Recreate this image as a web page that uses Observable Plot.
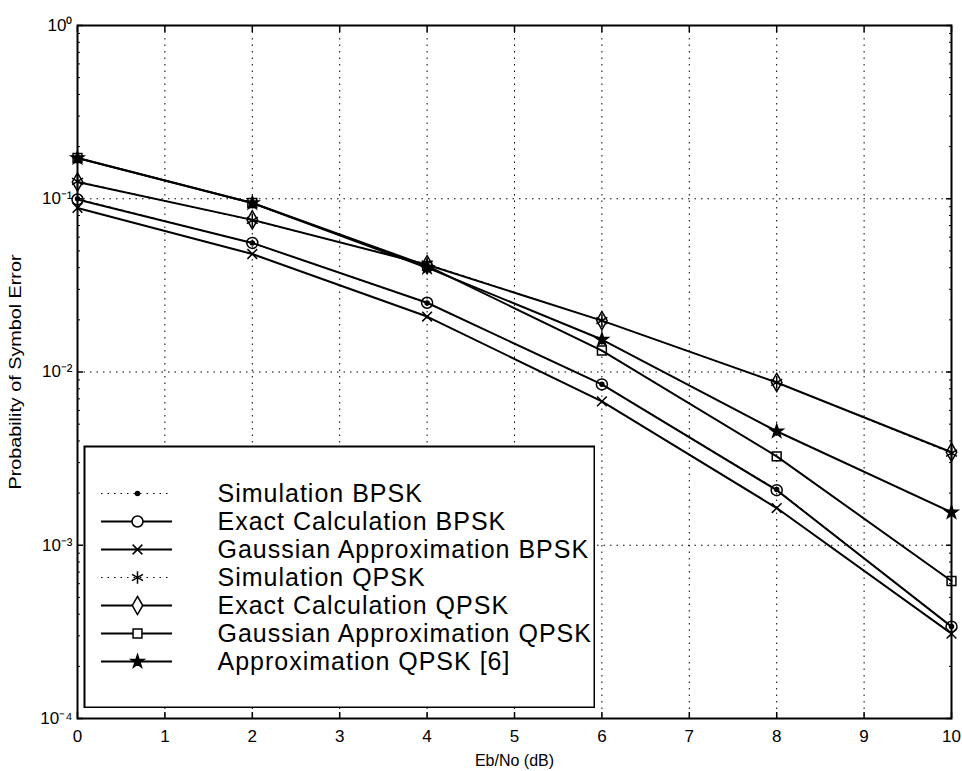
<!DOCTYPE html>
<html>
<head>
<meta charset="utf-8">
<script src="https://cdn.jsdelivr.net/npm/d3@7"></script>
<script src="https://cdn.jsdelivr.net/npm/@observablehq/plot@0.6"></script>
<style>
  html, body { margin: 0; padding: 0; background: white; }
  #wrap { position: relative; width: 962px; height: 771px; }
  #legend { position: absolute; left: 83px; top: 445px; }
</style>
</head>
<body>
<div id="wrap"><div id="chart"></div><div id="legend"></div></div>
<script>
// ---- data ----
const ebno = [0, 2, 4, 6, 8, 10];
const simBPSK    = [0.100, 0.0555, 0.0250, 0.00850, 0.00210, 0.000340];
const exactBPSK  = [0.099, 0.0556, 0.0251, 0.00848, 0.00208, 0.000339];
const gaussBPSK  = [0.0885, 0.0480, 0.0209, 0.00677, 0.00164, 0.000309];
const simQPSK    = [0.126, 0.0750, 0.0420, 0.0198, 0.00870, 0.00340];
const exactQPSK  = [0.125, 0.0755, 0.0416, 0.0198, 0.00870, 0.00344];
const gaussQPSK  = [0.172, 0.0945, 0.0410, 0.0133, 0.00326, 0.000622];
const approxQPSK = [0.172, 0.0945, 0.0400, 0.0154, 0.00455, 0.00155];

const seriesNames = [
  "Simulation BPSK",
  "Exact Calculation BPSK",
  "Gaussian Approximation BPSK",
  "Simulation QPSK",
  "Exact Calculation QPSK",
  "Gaussian Approximation QPSK",
  "Approximation QPSK [6]"
];
const seriesValues = [simBPSK, exactBPSK, gaussBPSK, simQPSK, exactQPSK, gaussQPSK, approxQPSK];

const xTicks = [0, 1, 2, 3, 4, 5, 6, 7, 8, 9, 10];
const yTicks = [1e-4, 1e-3, 1e-2, 1e-1, 1];
const yMinor = [1e-4, 1e-3, 1e-2, 1e-1].flatMap(d => [2,3,4,5,6,7,8,9].map(k => k * d));

// ---- styles per series ----
const styles = [
  {symbol: "circle",   r: 2,   fill: "black", dash: "1.5,5", width: 1},
  {symbol: "circle",   r: 5.5, fill: "none",  dash: null,    width: 2},
  {symbol: "times",    r: 4.5, fill: "none",  dash: null,    width: 2},
  {symbol: "asterisk", r: 6,   fill: "none",  dash: "1.5,5", width: 1},
  {symbol: "diamond",  r: 5.5, fill: "none",  dash: null,    width: 2},
  {symbol: "square",   r: 5,   fill: "none",  dash: null,    width: 2},
  {symbol: "star",     r: 4,   fill: "black", dash: null,    width: 2}
];

const series = seriesNames.map((name, i) => ({
  name, style: styles[i],
  points: ebno.map((x, j) => ({x, y: seriesValues[i][j], name}))
}));

const font = "'Liberation Sans', Arial, Helvetica, sans-serif";
const sup = {"-": "\u207B", "0": "\u2070", "1": "\u00B9", "2": "\u00B2", "3": "\u00B3", "4": "\u2074"};
const fmtPow = d => "10" + String(Math.round(Math.log10(d))).replace(/./g, c => sup[c]);

const marks = [
  Plot.gridX(xTicks.filter(d => d > 0 && d < 10), {stroke: "black", strokeOpacity: 1, strokeWidth: 1, strokeDasharray: "1.5,5"}),
  Plot.gridY(yTicks.filter(d => d > 1e-4 && d < 1), {stroke: "black", strokeOpacity: 1, strokeWidth: 1, strokeDasharray: "1.5,5"}),
  // tick labels and axis labels
  Plot.axisX(xTicks, {anchor: "bottom", tickSize: 0, tickPadding: 11, fontSize: 17,
    label: "Eb/No (dB)", labelAnchor: "center", labelOffset: 47, labelArrow: "none"}),
  Plot.axisY(yTicks, {anchor: "left", tickSize: 0, tickPadding: 5, fontSize: 17, tickFormat: fmtPow,
    label: "Probability of Symbol Error", labelAnchor: "center", labelOffset: 68, labelArrow: "none"}),
  // inward ticks on all sides
  Plot.axisX(xTicks, {anchor: "bottom", tickSize: -6, tickFormat: () => "", label: null, strokeWidth: 1.5}),
  Plot.axisX(xTicks, {anchor: "top", tickSize: -6, tickFormat: () => "", label: null, strokeWidth: 1.5}),
  Plot.axisY(yTicks, {anchor: "left", tickSize: -6, tickFormat: () => "", label: null, strokeWidth: 1.5}),
  Plot.axisY(yTicks, {anchor: "right", tickSize: -6, tickFormat: () => "", label: null, strokeWidth: 1.5}),
  Plot.axisY(yMinor, {anchor: "left", tickSize: -3, tickFormat: () => "", label: null}),
  Plot.axisY(yMinor, {anchor: "right", tickSize: -3, tickFormat: () => "", label: null}),
  Plot.frame({stroke: "black", strokeWidth: 2})
];

for (const s of series) {
  marks.push(Plot.line(s.points, {x: "x", y: "y", stroke: "black", strokeWidth: s.style.width,
    strokeDasharray: s.style.dash, curve: "linear"}));
}
for (const s of series) {
  marks.push(Plot.dot(s.points, {x: "x", y: "y", symbol: s.style.symbol, r: s.style.r,
    stroke: "black", strokeWidth: 1.5, fill: s.style.fill}));
}

const chart = Plot.plot({
  width: 962, height: 771,
  marginLeft: 77, marginRight: 11, marginTop: 25, marginBottom: 53,
  style: {fontFamily: font, fontSize: "17px", background: "white", color: "black"},
  x: {domain: [0, 10]},
  y: {type: "log", domain: [1e-4, 1]},
  marks
});
// drop the empty tick-label texts of the tick-only axes
chart.querySelectorAll("text").forEach(t => { if (!t.textContent.trim()) t.remove(); });
// enforce font sizes on the remaining axis texts
chart.querySelectorAll("text").forEach(t => { t.style.fontSize = "17px"; });
document.getElementById("chart").appendChild(chart);

// axis titles
const ylab = chart.querySelector('[aria-label="y-axis label"] text');
if (ylab) {
  ylab.style.fontSize = "16px";
  ylab.setAttribute("textLength", 235); ylab.setAttribute("lengthAdjust", "spacingAndGlyphs");
}
const xlab = chart.querySelector('[aria-label="x-axis label"] text');
if (xlab) xlab.style.fontSize = "16px";

// ---- legend ----
const legendMarks = [
  Plot.frame({stroke: "black", strokeWidth: 2, inset: 1})
];
series.forEach((s, i) => {
  const row = [s.name];
  legendMarks.push(Plot.ruleY(row, {y: d => d, x1: 18, x2: 89, stroke: "black",
    strokeWidth: s.style.width, strokeDasharray: s.style.dash}));
  legendMarks.push(Plot.dot(row, {y: d => d, x: 54, symbol: s.style.symbol, r: s.style.r,
    stroke: "black", strokeWidth: 1.5, fill: s.style.fill === "none" ? "white" : s.style.fill}));
});
legendMarks.push(Plot.text(seriesNames, {y: d => d, x: 134, text: d => d, textAnchor: "start",
  fontSize: 25, fill: "black"}));

const legend = Plot.plot({
  width: 512, height: 263, margin: 0,
  style: {fontFamily: font, background: "white", color: "black"},
  x: {type: "identity"},
  y: {type: "point", domain: seriesNames, range: [33, 230], axis: null},
  marks: legendMarks
});
legend.style.letterSpacing = "1px";
document.getElementById("legend").appendChild(legend);
</script>
</body>
</html>
